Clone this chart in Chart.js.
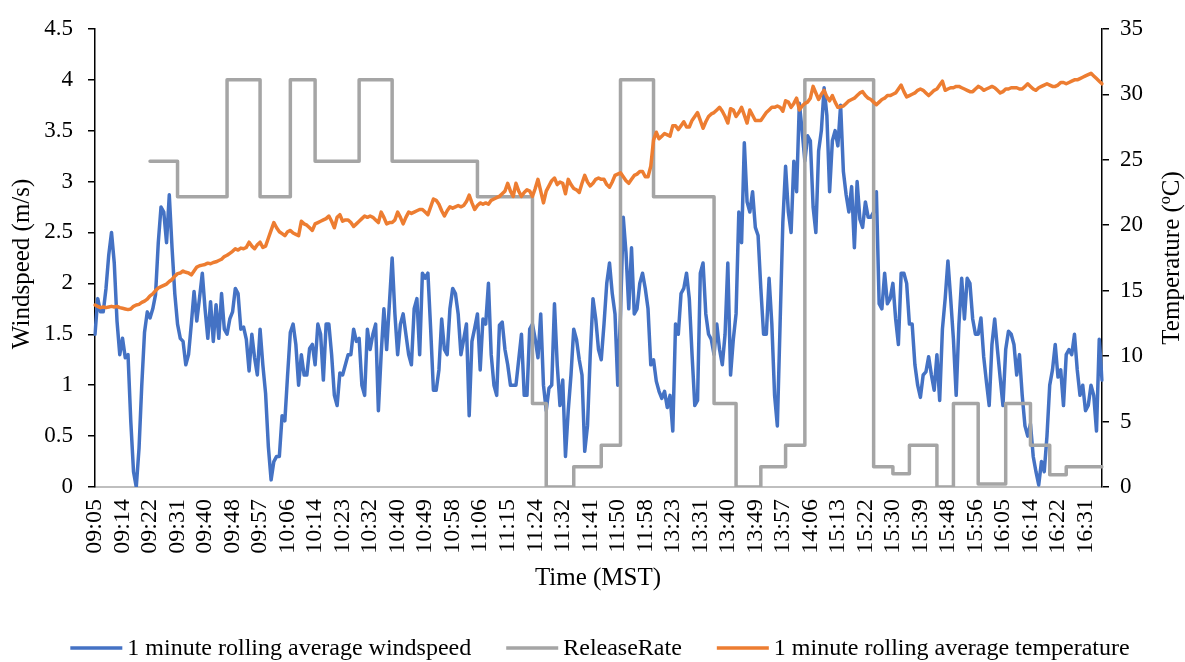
<!DOCTYPE html>
<html><head><meta charset="utf-8">
<script src="https://cdn.jsdelivr.net/npm/chart.js@4.4.1/dist/chart.umd.min.js"></script>
<style>html,body{margin:0;padding:0;background:#fff;}#wrap{width:1185px;height:662px;}</style>
</head><body><div id="wrap"><canvas id="c" width="1185" height="662"></canvas></div>
<script>
const tickLabels = ['09:05','09:14','09:22','09:31','09:40','09:48','09:57','10:06','10:14','10:23','10:32','10:40','10:49','10:58','11:06','11:15','11:24','11:32','11:41','11:50','11:58','13:23','13:31','13:40','13:49','13:57','14:06','15:13','15:22','15:30','15:39','15:48','15:56','16:05','16:14','16:22','16:31'];
const seriesNames = ['1 minute rolling average windspeed','ReleaseRate','1 minute rolling average temperature'];
const windspeed = [
1.5,1.85,1.72,1.72,1.95,2.28,2.5,2.2,1.63,1.3,
1.46,1.27,1.3,0.65,0.15,0.0,0.38,1.0,1.52,1.72,
1.66,1.75,1.89,2.4,2.75,2.7,2.4,2.87,2.35,1.9,
1.6,1.46,1.43,1.2,1.3,1.6,1.92,1.63,1.86,2.1,
1.75,1.46,1.82,1.43,1.79,1.46,1.9,1.55,1.5,1.65,
1.72,1.95,1.9,1.55,1.57,1.45,1.14,1.5,1.27,1.1,
1.55,1.2,0.92,0.4,0.07,0.25,0.3,0.3,0.7,0.65,
1.1,1.52,1.6,1.4,1.0,1.3,1.1,1.1,1.36,1.4,
1.2,1.6,1.5,1.05,1.6,1.6,1.3,0.9,0.8,1.12,
1.1,1.2,1.3,1.3,1.55,1.43,1.46,1.0,0.9,1.55,
1.35,1.5,1.6,0.75,1.3,1.75,1.35,1.8,2.25,1.7,
1.3,1.6,1.7,1.5,1.3,1.2,1.75,1.85,1.3,2.1,
2.05,2.1,1.55,0.95,0.95,1.15,1.65,1.35,1.3,1.75,
1.95,1.9,1.7,1.3,1.45,1.6,0.7,1.43,1.56,1.7,
1.15,1.65,1.6,2.0,1.3,1.0,0.9,1.59,1.62,1.35,
1.2,1.0,1.0,1.0,1.25,1.5,0.9,0.9,1.55,1.6,
1.45,1.27,1.7,1.0,0.75,0.97,1.0,1.8,1.2,0.8,
1.05,0.3,0.75,1.1,1.55,1.45,1.25,1.1,0.35,0.6,
1.3,1.85,1.65,1.35,1.25,1.6,2.0,2.2,1.9,1.7,
1.0,1.7,2.65,2.3,1.75,2.35,1.7,1.75,2.0,2.1,
1.95,1.75,1.2,1.25,1.04,0.94,0.87,0.94,0.78,0.9,
0.55,1.6,1.5,1.9,1.95,2.1,1.85,1.3,0.8,0.85,
2.1,2.2,1.7,1.5,1.45,1.3,1.6,1.35,1.2,1.5,
2.2,1.1,1.45,1.7,2.7,2.4,3.38,2.8,2.7,2.9,
2.55,2.47,1.95,1.5,1.5,2.05,1.6,0.9,0.6,1.6,
2.6,3.15,2.7,2.5,3.2,2.9,3.77,3.5,3.2,3.45,
3.4,2.75,2.5,3.3,3.5,3.92,3.65,2.9,3.4,3.5,
3.35,3.75,3.1,2.87,2.7,2.95,2.35,3.0,2.63,2.55,
2.8,2.65,2.65,2.7,2.9,1.8,1.75,2.1,1.8,1.85,
2.0,1.65,1.4,2.1,2.1,2.0,1.6,1.6,1.2,1.0,
0.88,1.1,1.13,1.28,1.1,0.95,1.3,0.85,1.55,1.85,
2.22,1.85,1.45,0.9,1.6,2.05,1.65,2.05,2.0,1.65,
1.5,1.5,1.66,1.28,1.03,0.8,1.4,1.65,1.35,1.07,
0.8,1.35,1.53,1.5,1.4,1.1,1.3,0.9,0.6,0.5,
0.62,0.3,0.15,0.02,0.25,0.15,0.5,1.0,1.15,1.4,
1.08,1.15,0.8,1.3,1.35,1.3,1.5,1.15,0.9,1.0,
0.75,0.8,1.0,0.9,0.55,1.45,1.05
];
const releaseRate = [
null,null,null,null,null,null,null,null,null,null,
null,null,null,null,null,null,null,null,null,null,
3.2,3.2,3.2,3.2,3.2,3.2,3.2,3.2,3.2,3.2,
2.85,2.85,2.85,2.85,2.85,2.85,2.85,2.85,2.85,2.85,
2.85,2.85,2.85,2.85,2.85,2.85,2.85,2.85,4,4,
4,4,4,4,4,4,4,4,4,4,
2.85,2.85,2.85,2.85,2.85,2.85,2.85,2.85,2.85,2.85,
2.85,4,4,4,4,4,4,4,4,4,
3.2,3.2,3.2,3.2,3.2,3.2,3.2,3.2,3.2,3.2,
3.2,3.2,3.2,3.2,3.2,3.2,4,4,4,4,
4,4,4,4,4,4,4,4,3.2,3.2,
3.2,3.2,3.2,3.2,3.2,3.2,3.2,3.2,3.2,3.2,
3.2,3.2,3.2,3.2,3.2,3.2,3.2,3.2,3.2,3.2,
3.2,3.2,3.2,3.2,3.2,3.2,3.2,3.2,3.2,2.85,
2.85,2.85,2.85,2.85,2.85,2.85,2.85,2.85,2.85,2.85,
2.85,2.85,2.85,2.85,2.85,2.85,2.85,2.85,2.85,0.82,
0.82,0.82,0.82,0.82,0,0,0,0,0,0,
0,0,0,0,0.2,0.2,0.2,0.2,0.2,0.2,
0.2,0.2,0.2,0.2,0.41,0.41,0.41,0.41,0.41,0.41,
0.41,4,4,4,4,4,4,4,4,4,
4,4,4,2.85,2.85,2.85,2.85,2.85,2.85,2.85,
2.85,2.85,2.85,2.85,2.85,2.85,2.85,2.85,2.85,2.85,
2.85,2.85,2.85,2.85,2.85,0.82,0.82,0.82,0.82,0.82,
0.82,0.82,0.82,0,0,0,0,0,0,0,
0,0,0.2,0.2,0.2,0.2,0.2,0.2,0.2,0.2,
0.2,0.41,0.41,0.41,0.41,0.41,0.41,0.41,4,4,
4,4,4,4,4,4,4,4,4,4,
4,4,4,4,4,4,4,4,4,4,
4,4,4,0.2,0.2,0.2,0.2,0.2,0.2,0.2,
0.13,0.13,0.13,0.13,0.13,0.13,0.41,0.41,0.41,0.41,
0.41,0.41,0.41,0.41,0.41,0.41,0,0,0,0,
0,0,0.82,0.82,0.82,0.82,0.82,0.82,0.82,0.82,
0.82,0.03,0.03,0.03,0.03,0.03,0.03,0.03,0.03,0.03,
0.03,0.82,0.82,0.82,0.82,0.82,0.82,0.82,0.82,0.82,
0.41,0.41,0.41,0.41,0.41,0.41,0.41,0.12,0.12,0.12,
0.12,0.12,0.12,0.2,0.2,0.2,0.2,0.2,0.2,0.2,
0.2,0.2,0.2,0.2,0.2,0.2,0.2
];
const temperature = [
13.9,13.8,13.7,13.75,13.7,13.75,13.8,13.75,13.8,13.7,
13.65,13.6,13.55,13.6,13.8,13.9,13.95,14.1,14.2,14.35,
14.6,14.75,15.0,15.2,15.3,15.4,15.5,15.7,15.85,16.1,
16.3,16.35,16.5,16.4,16.35,16.2,16.5,16.8,16.9,16.95,
17.0,17.1,17.05,17.15,17.2,17.3,17.4,17.6,17.7,17.85,
18.0,18.2,18.1,18.25,18.2,18.3,18.7,18.4,18.2,18.5,
18.7,18.3,18.4,19.0,19.6,20.2,19.8,19.5,19.35,19.2,
19.5,19.6,19.4,19.3,19.2,20.3,20.1,20.0,19.8,19.6,
20.1,20.2,20.3,20.4,20.5,20.7,20.3,19.8,20.6,20.8,
20.3,20.4,20.4,20.2,19.9,20.1,20.3,20.5,20.7,20.6,
20.7,20.6,20.4,20.2,21.0,20.6,20.1,20.2,20.2,20.4,
21.0,20.6,20.1,20.6,21.0,20.9,21.0,21.1,21.2,21.2,
21.0,20.8,21.4,22.0,21.9,21.6,21.1,20.7,21.1,21.4,
21.3,21.4,21.5,21.4,21.5,21.8,22.3,21.7,21.2,21.5,
21.7,21.6,21.7,21.6,21.9,22.0,22.1,22.2,22.4,22.6,
23.2,22.6,22.2,23.2,22.6,22.2,22.5,22.7,22.6,22.2,
22.8,23.5,22.6,21.7,22.6,23.0,23.4,23.6,23.1,23.3,
23.2,22.4,23.5,23.1,22.8,22.7,22.5,23.2,23.8,23.3,
23.0,23.2,23.5,23.6,23.5,23.5,23.1,22.9,23.3,23.8,
23.9,24.0,23.7,23.4,23.2,23.5,23.8,23.9,24.1,24.1,
23.7,23.7,24.5,26.5,27.1,26.6,26.8,27.0,26.9,26.8,
27.6,27.6,27.3,27.6,27.9,27.5,27.5,28.0,28.3,28.6,
28.0,27.4,27.9,28.3,28.5,28.6,28.8,29.0,28.7,28.3,
27.8,28.9,28.8,28.3,28.6,29.0,28.4,27.8,28.8,28.4,
28.0,28.0,28.0,28.3,28.6,28.8,29.0,29.0,29.1,29.0,
28.7,29.5,29.4,29.0,29.3,29.7,28.8,29.1,29.3,29.4,
29.7,30.6,30.1,29.6,30.0,30.3,29.8,29.5,29.9,29.4,
29.0,29.05,29.1,29.3,29.5,29.6,29.7,29.9,30.1,30.2,
29.9,29.7,29.6,29.4,29.2,29.4,29.6,29.7,29.9,29.9,
30.0,30.1,30.4,30.7,30.2,29.8,29.9,30.0,30.1,30.3,
30.4,30.3,30.1,29.9,30.1,30.3,30.4,30.7,31.0,30.3,
30.4,30.5,30.5,30.6,30.6,30.5,30.4,30.3,30.2,30.2,
30.4,30.6,30.5,30.3,30.4,30.5,30.6,30.5,30.3,30.1,
30.2,30.4,30.4,30.5,30.5,30.5,30.4,30.4,30.6,30.8,
30.6,30.4,30.3,30.5,30.6,30.7,30.8,30.7,30.6,30.6,
30.7,30.9,30.9,30.8,30.9,31.0,31.1,31.1,31.2,31.3,
31.4,31.5,31.6,31.4,31.2,31.0,30.8
];
const categories = windspeed.map((v, i) => (i % 10 === 0 ? tickLabels[i / 10] : ''));

const FONT = "'Liberation Serif', 'Times New Roman', serif";
const COLORS = ['#4472C4', '#A5A5A5', '#ED7D31'];

const overlay = {
  id: 'overlay',
  afterDraw(chart) {
    const ctx = chart.ctx;
    const area = chart.chartArea;
    ctx.save();
    ctx.fillStyle = '#000';
    ctx.textBaseline = 'middle';
    ctx.textAlign = 'center';
    ctx.font = '25px ' + FONT;
    ctx.fillText('Time (MST)', 598, 578);
    const midY = (area.top + area.bottom) / 2;
    ctx.save();
    ctx.translate(22, midY + 6);
    ctx.rotate(-Math.PI / 2);
    ctx.fillText('Windspeed (m/s)', 0, 0);
    ctx.restore();
    const p1 = 'Temperature (', p2 = 'o', p3 = 'C)';
    ctx.font = '25px ' + FONT; const w1 = ctx.measureText(p1).width, w3 = ctx.measureText(p3).width;
    ctx.font = '16px ' + FONT; const w2 = ctx.measureText(p2).width;
    const tw = w1 + w2 + w3;
    ctx.save();
    ctx.translate(1172, midY);
    ctx.rotate(-Math.PI / 2);
    ctx.textAlign = 'left';
    ctx.font = '25px ' + FONT; ctx.fillText(p1, -tw / 2, 0);
    ctx.font = '16px ' + FONT; ctx.fillText(p2, -tw / 2 + w1, -6);
    ctx.font = '25px ' + FONT; ctx.fillText(p3, -tw / 2 + w1 + w2, 0);
    ctx.restore();
    ctx.font = '24px ' + FONT;
    ctx.textAlign = 'left';
    const sw = 52, gapT = 5, gapI = 35;
    const widths = seriesNames.map(n => sw + gapT + ctx.measureText(n).width);
    const total = widths.reduce((a, b) => a + b, 0) + gapI * (widths.length - 1);
    let x = 600 - total / 2;
    const ly = 648;
    seriesNames.forEach((n, k) => {
      ctx.strokeStyle = COLORS[k];
      ctx.lineWidth = 3.5;
      ctx.beginPath(); ctx.moveTo(x, ly); ctx.lineTo(x + sw, ly); ctx.stroke();
      ctx.fillStyle = '#000';
      ctx.fillText(n, x + sw + gapT, ly + 1);
      x += widths[k] + gapI;
    });
    ctx.restore();
  }
};

new Chart(document.getElementById('c'), {
  type: 'line',
  data: {
    labels: categories,
    datasets: [
      { label: seriesNames[0], data: windspeed, yAxisID: 'y', borderColor: COLORS[0], backgroundColor: COLORS[0], borderWidth: 3.5, order: 3 },
      { label: seriesNames[1], data: releaseRate, yAxisID: 'y', borderColor: COLORS[1], backgroundColor: COLORS[1], borderWidth: 3.5, stepped: 'before', order: 2 },
      { label: seriesNames[2], data: temperature, yAxisID: 'y2', borderColor: COLORS[2], backgroundColor: COLORS[2], borderWidth: 3.5, order: 1 }
    ]
  },
  options: {
    responsive: false,
    animation: false,
    devicePixelRatio: 1,
    layout: { padding: { top: 25, left: 0, right: 0, bottom: 0 } },
    elements: { point: { radius: 0, hoverRadius: 0 }, line: { tension: 0, borderJoinStyle: 'round', borderCapStyle: 'round' } },
    plugins: { legend: { display: false }, tooltip: { enabled: false } },
    scales: {
      x: {
        type: 'category',
        grid: { display: false, drawTicks: false },
        border: { display: true, color: '#BFBFBF', width: 2 },
        ticks: { autoSkip: false, maxRotation: 90, minRotation: 90, padding: 12, color: '#000', font: { family: FONT, size: 24 } },
        afterFit(s) { s.height = 175; }
      },
      y: {
        position: 'left', min: 0, max: 4.5,
        grid: { drawOnChartArea: false, drawTicks: true, tickLength: 7, color: '#000', lineWidth: 1.5 },
        border: { display: true, color: '#000', width: 1.5 },
        ticks: { stepSize: 0.5, padding: 15, color: '#000', font: { family: FONT, size: 23 }, callback: v => String(Math.round(v * 10) / 10) },
        afterFit(s) { s.width = 95; }
      },
      y2: {
        position: 'right', min: 0, max: 35,
        grid: { drawOnChartArea: false, drawTicks: true, tickLength: 7, color: '#000', lineWidth: 1.5 },
        border: { display: true, color: '#000', width: 1.5 },
        ticks: { stepSize: 5, padding: 11, color: '#000', font: { family: FONT, size: 23 } },
        afterFit(s) { s.width = 83; }
      }
    }
  },
  plugins: [overlay]
});
</script>
</body></html>
